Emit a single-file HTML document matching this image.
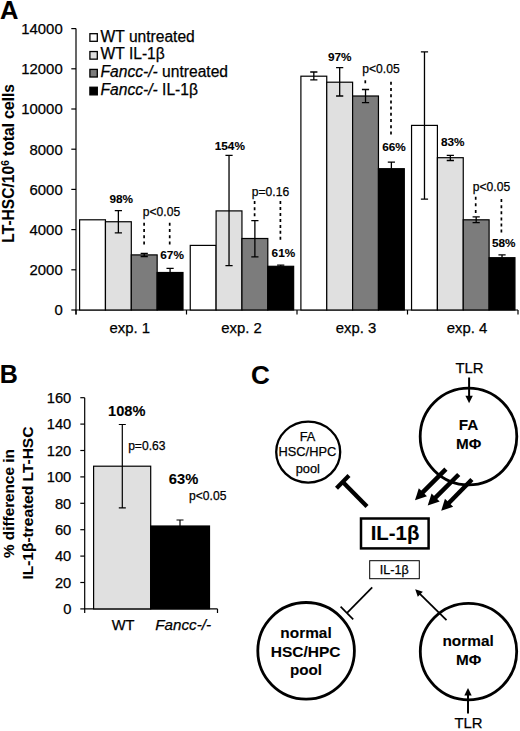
<!DOCTYPE html>
<html><head><meta charset="utf-8"><style>
html,body{margin:0;padding:0;background:#fff;}
svg{display:block;}
text{font-family:"Liberation Sans", sans-serif;fill:#000;stroke:#000;stroke-width:0.25px;}
text[font-weight=bold]{stroke-width:0.1px;}
</style></head><body>
<svg width="520" height="731" viewBox="0 0 520 731">
<rect width="520" height="731" fill="#fff"/>
<text x="0.1" y="18.5" font-size="25.5" font-weight="bold">A</text>
<line x1="76.0" y1="28.6" x2="76.0" y2="314.5" stroke="#000" stroke-width="1.2"/>
<line x1="71.3" y1="310.00" x2="76.0" y2="310.00" stroke="#000" stroke-width="1.2"/>
<text x="62.7" y="315.30" font-size="14.9" text-anchor="end">0</text>
<line x1="71.3" y1="269.80" x2="76.0" y2="269.80" stroke="#000" stroke-width="1.2"/>
<text x="62.7" y="275.10" font-size="14.9" text-anchor="end">2000</text>
<line x1="71.3" y1="229.60" x2="76.0" y2="229.60" stroke="#000" stroke-width="1.2"/>
<text x="62.7" y="234.90" font-size="14.9" text-anchor="end">4000</text>
<line x1="71.3" y1="189.40" x2="76.0" y2="189.40" stroke="#000" stroke-width="1.2"/>
<text x="62.7" y="194.70" font-size="14.9" text-anchor="end">6000</text>
<line x1="71.3" y1="149.20" x2="76.0" y2="149.20" stroke="#000" stroke-width="1.2"/>
<text x="62.7" y="154.50" font-size="14.9" text-anchor="end">8000</text>
<line x1="71.3" y1="109.00" x2="76.0" y2="109.00" stroke="#000" stroke-width="1.2"/>
<text x="62.7" y="114.30" font-size="14.9" text-anchor="end">10000</text>
<line x1="71.3" y1="68.80" x2="76.0" y2="68.80" stroke="#000" stroke-width="1.2"/>
<text x="62.7" y="74.10" font-size="14.9" text-anchor="end">12000</text>
<line x1="71.3" y1="28.60" x2="76.0" y2="28.60" stroke="#000" stroke-width="1.2"/>
<text x="62.7" y="33.90" font-size="14.9" text-anchor="end">14000</text>
<line x1="75.4" y1="310.0" x2="518" y2="310.0" stroke="#000" stroke-width="1.2"/>
<line x1="76.00" y1="310.0" x2="76.00" y2="314.5" stroke="#000" stroke-width="1.2"/>
<line x1="186.50" y1="310.0" x2="186.50" y2="314.5" stroke="#000" stroke-width="1.2"/>
<line x1="297.00" y1="310.0" x2="297.00" y2="314.5" stroke="#000" stroke-width="1.2"/>
<line x1="407.50" y1="310.0" x2="407.50" y2="314.5" stroke="#000" stroke-width="1.2"/>
<line x1="518.00" y1="310.0" x2="518.00" y2="314.5" stroke="#000" stroke-width="1.2"/>
<rect x="79.60" y="219.80" width="25.85" height="90.20" fill="#ffffff" stroke="#000" stroke-width="1.2"/>
<rect x="105.45" y="221.75" width="25.85" height="88.25" fill="#e0e0e0" stroke="#000" stroke-width="1.2"/>
<rect x="131.30" y="254.90" width="25.85" height="55.10" fill="#7c7c7c" stroke="#000" stroke-width="1.2"/>
<rect x="157.15" y="272.50" width="25.85" height="37.50" fill="#000000" stroke="#000" stroke-width="1.2"/>
<rect x="190.25" y="245.40" width="25.85" height="64.60" fill="#ffffff" stroke="#000" stroke-width="1.2"/>
<rect x="216.10" y="210.90" width="25.85" height="99.10" fill="#e0e0e0" stroke="#000" stroke-width="1.2"/>
<rect x="241.95" y="238.50" width="25.85" height="71.50" fill="#7c7c7c" stroke="#000" stroke-width="1.2"/>
<rect x="267.80" y="266.30" width="25.85" height="43.70" fill="#000000" stroke="#000" stroke-width="1.2"/>
<rect x="300.90" y="76.20" width="25.85" height="233.80" fill="#ffffff" stroke="#000" stroke-width="1.2"/>
<rect x="326.75" y="82.20" width="25.85" height="227.80" fill="#e0e0e0" stroke="#000" stroke-width="1.2"/>
<rect x="352.60" y="96.00" width="25.85" height="214.00" fill="#7c7c7c" stroke="#000" stroke-width="1.2"/>
<rect x="378.45" y="168.70" width="25.85" height="141.30" fill="#000000" stroke="#000" stroke-width="1.2"/>
<rect x="411.55" y="125.40" width="25.85" height="184.60" fill="#ffffff" stroke="#000" stroke-width="1.2"/>
<rect x="437.40" y="157.70" width="25.85" height="152.30" fill="#e0e0e0" stroke="#000" stroke-width="1.2"/>
<rect x="463.25" y="219.80" width="25.85" height="90.20" fill="#7c7c7c" stroke="#000" stroke-width="1.2"/>
<rect x="489.10" y="257.70" width="25.85" height="52.30" fill="#000000" stroke="#000" stroke-width="1.2"/>
<path d="M118.37 210.60V232.80M114.77 210.60h7.2M114.77 232.80h7.2" stroke="#000" stroke-width="1.3" fill="none"/>
<path d="M144.23 253.30V256.50M140.63 253.30h7.2M140.63 256.50h7.2" stroke="#000" stroke-width="1.3" fill="none"/>
<path d="M170.08 268.40V272.50M166.48 268.40h7.2" stroke="#000" stroke-width="1.3" fill="none"/>
<path d="M229.03 155.40V265.70M225.43 155.40h7.2M225.43 265.70h7.2" stroke="#000" stroke-width="1.3" fill="none"/>
<path d="M254.88 220.60V256.80M251.28 220.60h7.2M251.28 256.80h7.2" stroke="#000" stroke-width="1.3" fill="none"/>
<path d="M280.73 265.20V266.30M277.12 265.20h7.2" stroke="#000" stroke-width="1.3" fill="none"/>
<path d="M313.82 72.00V79.80M310.22 72.00h7.2M310.22 79.80h7.2" stroke="#000" stroke-width="1.3" fill="none"/>
<path d="M339.68 67.60V96.00M336.07 67.60h7.2M336.07 96.00h7.2" stroke="#000" stroke-width="1.3" fill="none"/>
<path d="M365.52 89.50V102.70M361.92 89.50h7.2M361.92 102.70h7.2" stroke="#000" stroke-width="1.3" fill="none"/>
<path d="M391.38 162.20V168.70M387.77 162.20h7.2" stroke="#000" stroke-width="1.3" fill="none"/>
<path d="M424.48 51.90V199.20M420.88 51.90h7.2M420.88 199.20h7.2" stroke="#000" stroke-width="1.3" fill="none"/>
<path d="M450.33 155.40V160.50M446.73 155.40h7.2M446.73 160.50h7.2" stroke="#000" stroke-width="1.3" fill="none"/>
<path d="M476.18 216.80V222.60M472.58 216.80h7.2M472.58 222.60h7.2" stroke="#000" stroke-width="1.3" fill="none"/>
<path d="M502.03 254.90V257.70M498.43 254.90h7.2" stroke="#000" stroke-width="1.3" fill="none"/>
<text x="129.75" y="333.3" font-size="14.9" text-anchor="middle">exp. 1</text>
<text x="241.50" y="333.3" font-size="14.9" text-anchor="middle">exp. 2</text>
<text x="356.00" y="333.3" font-size="14.9" text-anchor="middle">exp. 3</text>
<text x="467.00" y="333.3" font-size="14.9" text-anchor="middle">exp. 4</text>
<text transform="translate(14.1,163.3) rotate(-90)" font-size="15.6" font-weight="bold" text-anchor="middle">LT-HSC/10<tspan font-size="10" dy="-4.8">6</tspan><tspan dy="4.8"> total cells</tspan></text>
<rect x="89.9" y="33.70" width="7.4" height="7.6" fill="#ffffff" stroke="#000" stroke-width="1.3"/>
<text x="100.6" y="41.60" font-size="15.6">WT untreated</text>
<rect x="89.9" y="51.55" width="7.4" height="7.6" fill="#e0e0e0" stroke="#000" stroke-width="1.3"/>
<text x="100.6" y="59.45" font-size="15.6">WT IL-1β</text>
<rect x="89.9" y="69.40" width="7.4" height="7.6" fill="#7c7c7c" stroke="#000" stroke-width="1.3"/>
<text x="100.6" y="77.30" font-size="15.6"><tspan font-style="italic">Fancc-/-</tspan> untreated</text>
<rect x="89.9" y="87.25" width="7.4" height="7.6" fill="#000000" stroke="#000" stroke-width="1.3"/>
<text x="100.6" y="95.15" font-size="15.6"><tspan font-style="italic">Fancc-/-</tspan> IL-1β</text>
<text x="121.2" y="203.4" font-size="11.8" font-weight="bold" text-anchor="middle">98%</text>
<text x="172.1" y="258.7" font-size="11.8" font-weight="bold" text-anchor="middle">67%</text>
<text x="229.8" y="149.6" font-size="11.8" font-weight="bold" text-anchor="middle">154%</text>
<text x="283.4" y="256.8" font-size="11.8" font-weight="bold" text-anchor="middle">61%</text>
<text x="339.7" y="61.2" font-size="11.8" font-weight="bold" text-anchor="middle">97%</text>
<text x="394" y="151" font-size="11.8" font-weight="bold" text-anchor="middle">66%</text>
<text x="452.8" y="146" font-size="11.8" font-weight="bold" text-anchor="middle">83%</text>
<text x="503.8" y="246.8" font-size="11.8" font-weight="bold" text-anchor="middle">58%</text>
<text x="161.5" y="216.3" font-size="12.1" text-anchor="middle">p&lt;0.05</text>
<text x="270.5" y="195.8" font-size="12.1" text-anchor="middle">p=0.16</text>
<text x="381" y="72.5" font-size="12.1" text-anchor="middle">p&lt;0.05</text>
<text x="491.5" y="190.7" font-size="12.1" text-anchor="middle">p&lt;0.05</text>
<path d="M144.1 222.70v3.0M144.1 229.00v3.0M144.1 235.30v3.0M144.1 241.60v3.0" stroke="#000" stroke-width="1.7" fill="none"/>
<path d="M169.7 222.70v3.0M169.7 229.00v3.0M169.7 235.30v3.0M169.7 241.60v3.0" stroke="#000" stroke-width="1.7" fill="none"/>
<path d="M254.6 201.10v3.0M254.6 207.15v3.0M254.6 213.20v3.0" stroke="#000" stroke-width="1.7" fill="none"/>
<path d="M280.4 201.10v3.0M280.4 207.05v3.0M280.4 213.00v3.0M280.4 218.95v3.0M280.4 224.90v3.0M280.4 230.85v3.0M280.4 236.80v3.0" stroke="#000" stroke-width="1.7" fill="none"/>
<path d="M365.3 80.30v3.0" stroke="#000" stroke-width="1.7" fill="none"/>
<path d="M391.0 81.70v3.0M391.0 87.92v3.0M391.0 94.15v3.0M391.0 100.38v3.0M391.0 106.60v3.0M391.0 112.83v3.0M391.0 119.05v3.0M391.0 125.28v3.0M391.0 131.50v3.0" stroke="#000" stroke-width="1.7" fill="none"/>
<path d="M475.7 196.70v3.0M475.7 203.35v3.0M475.7 210.00v3.0" stroke="#000" stroke-width="1.7" fill="none"/>
<path d="M501.4 199.10v3.0M501.4 205.20v3.0M501.4 211.30v3.0M501.4 217.40v3.0M501.4 223.50v3.0M501.4 229.60v3.0" stroke="#000" stroke-width="1.7" fill="none"/>
<text x="-0.2" y="383.2" font-size="25" font-weight="bold">B</text>
<line x1="84.7" y1="397.7" x2="84.7" y2="613" stroke="#000" stroke-width="1.2"/>
<line x1="80.3" y1="608.90" x2="84.7" y2="608.90" stroke="#000" stroke-width="1.2"/>
<text x="71.3" y="614.20" font-size="14.7" text-anchor="end">0</text>
<line x1="80.3" y1="582.50" x2="84.7" y2="582.50" stroke="#000" stroke-width="1.2"/>
<text x="71.3" y="587.80" font-size="14.7" text-anchor="end">20</text>
<line x1="80.3" y1="556.10" x2="84.7" y2="556.10" stroke="#000" stroke-width="1.2"/>
<text x="71.3" y="561.40" font-size="14.7" text-anchor="end">40</text>
<line x1="80.3" y1="529.70" x2="84.7" y2="529.70" stroke="#000" stroke-width="1.2"/>
<text x="71.3" y="535.00" font-size="14.7" text-anchor="end">60</text>
<line x1="80.3" y1="503.30" x2="84.7" y2="503.30" stroke="#000" stroke-width="1.2"/>
<text x="71.3" y="508.60" font-size="14.7" text-anchor="end">80</text>
<line x1="80.3" y1="476.90" x2="84.7" y2="476.90" stroke="#000" stroke-width="1.2"/>
<text x="71.3" y="482.20" font-size="14.7" text-anchor="end">100</text>
<line x1="80.3" y1="450.50" x2="84.7" y2="450.50" stroke="#000" stroke-width="1.2"/>
<text x="71.3" y="455.80" font-size="14.7" text-anchor="end">120</text>
<line x1="80.3" y1="424.10" x2="84.7" y2="424.10" stroke="#000" stroke-width="1.2"/>
<text x="71.3" y="429.40" font-size="14.7" text-anchor="end">140</text>
<line x1="80.3" y1="397.70" x2="84.7" y2="397.70" stroke="#000" stroke-width="1.2"/>
<text x="71.3" y="403.00" font-size="14.7" text-anchor="end">160</text>
<line x1="84.10000000000001" y1="608.9" x2="217.5" y2="608.9" stroke="#000" stroke-width="1.2"/>
<line x1="217.5" y1="608.9" x2="217.5" y2="613" stroke="#000" stroke-width="1.2"/>
<rect x="93.6" y="466.2" width="57.1" height="142.70" fill="#e0e0e0" stroke="#000" stroke-width="1.2"/>
<rect x="150.7" y="526" width="58.8" height="82.90" fill="#000000" stroke="#000" stroke-width="1.2"/>
<path d="M122.3 424.5V507.9M118.8 424.5h7M118.8 507.9h7" stroke="#000" stroke-width="1.2" fill="none"/>
<path d="M180 520V530M176.5 520h7" stroke="#000" stroke-width="1.2" fill="none"/>
<text x="126.7" y="415.6" font-size="14.6" font-weight="bold" text-anchor="middle">108%</text>
<text x="183.5" y="484.2" font-size="14.7" font-weight="bold" text-anchor="middle">63%</text>
<text x="146.8" y="449.8" font-size="12.1" text-anchor="middle">p=0.63</text>
<text x="207.7" y="499.9" font-size="12.1" text-anchor="middle">p&lt;0.05</text>
<text x="123.1" y="629.5" font-size="14.7" text-anchor="middle">WT</text>
<text x="183.2" y="629.5" font-size="15.2" font-style="italic" text-anchor="middle">Fancc-/-</text>
<text transform="translate(14.2,503.6) rotate(-90)" font-size="15.3" font-weight="bold" text-anchor="middle">% difference in</text>
<text transform="translate(32.7,503.1) rotate(-90)" font-size="15.5" font-weight="bold" text-anchor="middle">IL-1β-treated LT-HSC</text>
<text x="251" y="383.8" font-size="26" font-weight="bold">C</text>
<circle cx="468.5" cy="436.5" r="48.3" fill="none" stroke="#000" stroke-width="2.8"/>
<text x="469.5" y="372.7" font-size="14.9" text-anchor="middle">TLR</text>
<line x1="469.1" y1="377.5" x2="469.1" y2="397" stroke="#000" stroke-width="2"/>
<path d="M465.4 395.8L472.8 395.8L469.1 403.3Z" fill="#000"/>
<text x="468.6" y="430.4" font-size="15.3" font-weight="bold" text-anchor="middle">FA</text>
<text x="468.6" y="448.9" font-size="15.3" font-weight="bold" text-anchor="middle">MΦ</text>
<line x1="445.90" y1="469.10" x2="422.19" y2="492.96" stroke="#000" stroke-width="4.5"/><path d="M415.00 500.20L418.82 488.20L426.97 496.31Z" fill="#000"/>
<line x1="458.70" y1="474.50" x2="434.92" y2="498.20" stroke="#000" stroke-width="4.5"/><path d="M427.70 505.40L431.57 493.42L439.69 501.57Z" fill="#000"/>
<line x1="471.90" y1="479.50" x2="448.34" y2="503.52" stroke="#000" stroke-width="4.5"/><path d="M441.20 510.80L444.94 498.78L453.15 506.83Z" fill="#000"/>
<ellipse cx="308.2" cy="452.1" rx="32" ry="30.5" fill="none" stroke="#000" stroke-width="2.3"/>
<text x="307.5" y="440.5" font-size="12.8" text-anchor="middle">FA</text>
<text x="307.4" y="456.2" font-size="12.8" text-anchor="middle">HSC/HPC</text>
<text x="307.8" y="472.6" font-size="12.8" text-anchor="middle">pool</text>
<line x1="367" y1="506.5" x2="342.8" y2="481.9" stroke="#000" stroke-width="4.3"/>
<line x1="336.5" y1="488.2" x2="349" y2="475.6" stroke="#000" stroke-width="4.2"/>
<rect x="361" y="518.5" width="67.6" height="29.9" fill="none" stroke="#000" stroke-width="2.5"/>
<text x="395" y="540.4" font-size="20.4" font-weight="bold" text-anchor="middle">IL-1β</text>
<rect x="369.7" y="560.7" width="49.6" height="18" fill="none" stroke="#000" stroke-width="1"/>
<text x="394.3" y="574.4" font-size="12.6" text-anchor="middle">IL-1β</text>
<line x1="372.2" y1="587.4" x2="347.1" y2="612.9" stroke="#000" stroke-width="1.7"/>
<line x1="340.6" y1="606.6" x2="353.2" y2="619.4" stroke="#000" stroke-width="1.7"/>
<circle cx="306.1" cy="650.8" r="48.3" fill="none" stroke="#000" stroke-width="2.8"/>
<text x="306" y="637.8" font-size="15.4" font-weight="bold" text-anchor="middle">normal</text>
<text x="305.6" y="656.5" font-size="15.5" font-weight="bold" text-anchor="middle">HSC/HPC</text>
<text x="306" y="675.4" font-size="15.2" font-weight="bold" text-anchor="middle">pool</text>
<circle cx="468.5" cy="651.6" r="48.2" fill="none" stroke="#000" stroke-width="2.8"/>
<text x="468.1" y="645.5" font-size="15.4" font-weight="bold" text-anchor="middle">normal</text>
<text x="468.7" y="664.5" font-size="15.3" font-weight="bold" text-anchor="middle">MΦ</text>
<text x="468.5" y="727.5" font-size="14.9" text-anchor="middle">TLR</text>
<line x1="468" y1="713.5" x2="468" y2="694" stroke="#000" stroke-width="2"/>
<path d="M464.3 695.5L471.7 695.5L468 688Z" fill="#000"/>
<line x1="446.50" y1="620.10" x2="419.61" y2="593.56" stroke="#000" stroke-width="1.8"/><path d="M415.20 589.20L422.85 591.70L417.79 596.82Z" fill="#000"/>
</svg>
</body></html>
